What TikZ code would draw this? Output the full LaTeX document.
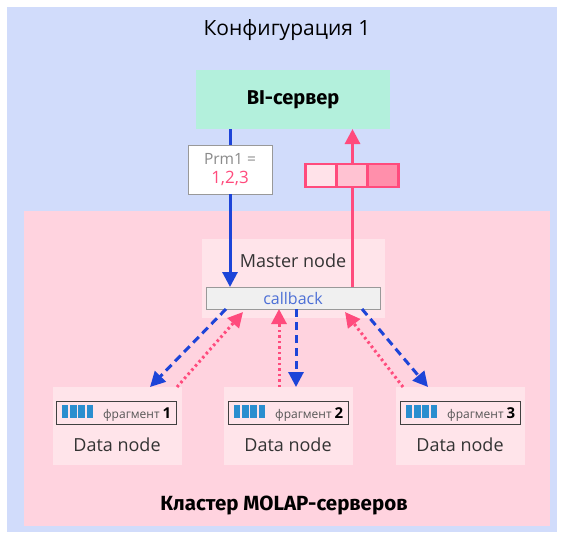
\documentclass[tikz,border=0pt]{standalone}
\usepackage{fontspec}
\setmainfont{Open Sans}
\newfontfamily\heavyfont{Fira Sans}
\usetikzlibrary{arrows.meta}

\definecolor{bgblue}{HTML}{D1DCFB}
\definecolor{clusterpink}{HTML}{FFD3DF}
\definecolor{nodepink}{HTML}{FFE4EA}
\definecolor{mint}{HTML}{B3F0DC}
\definecolor{arrowblue}{HTML}{1D44D8}
\definecolor{arrowpink}{HTML}{FF4B7D}
\definecolor{cbblue}{HTML}{4C6FD6}
\definecolor{cbfill}{HTML}{F0F0F0}
\definecolor{boxgray}{HTML}{999999}
\definecolor{prmgray}{HTML}{8A8A8A}
\definecolor{bargblue}{HTML}{2A8ECF}
\definecolor{fraggray}{HTML}{555555}
\definecolor{cellA}{HTML}{FFE2E9}
\definecolor{cellB}{HTML}{FFC2D2}
\definecolor{cellC}{HTML}{FF8FAB}

\newcommand{\fragbars}{{\color{bargblue}\rule{6.5pt}{13pt}\hspace{1.8pt}\rule{6.5pt}{13pt}\hspace{1.8pt}\rule{6.5pt}{13pt}\hspace{1.8pt}\rule{6.5pt}{13pt}}}
\newcommand{\fraglabel}[1]{\fragbars\hspace{10pt}{\fontsize{12pt}{14pt}\selectfont\color{fraggray}фрагмент}\hspace{3pt}{\fontsize{15pt}{17pt}\selectfont\bfseries #1}}

\tikzset{
  plate/.style={inner sep=0pt, outer sep=0pt, anchor=north west},
  cell/.style={draw=arrowpink, line width=2.2pt, minimum width=31pt, minimum height=23pt, inner sep=0pt},
  fragbox/.style={draw=black!75, line width=1pt, minimum width=120pt, minimum height=23pt, inner sep=0pt, anchor=north west},
  solidblue/.style={draw=arrowblue, line width=3pt},
  solidpink/.style={draw=arrowpink, line width=3pt},
  tipA/.style={-{Triangle[length=15pt,width=15pt]}},
  dashblue/.style={draw=arrowblue, line width=3pt, dash pattern=on 8pt off 5pt, tipA},
  dotpink/.style={draw=arrowpink, line width=3pt, dash pattern=on 2.5pt off 3pt, tipA},
  bodytext/.style={font=\fontsize{18pt}{21pt}\selectfont, text=black!80},
}

\begin{document}
\begin{tikzpicture}[x=1pt, y=-1pt]
\useasboundingbox (0,0) rectangle (564,539);

% backgrounds
\node[plate, fill=bgblue, minimum width=550pt, minimum height=525pt] (frame) at (7,7) {};
\node[plate, fill=clusterpink, minimum width=526pt, minimum height=315pt] (cluster) at (24,211) {};
\node[plate, fill=nodepink, minimum width=183pt, minimum height=79pt] (master) at (202,239) {};
\node[plate, fill=nodepink, minimum width=129pt, minimum height=78pt] (dn1) at (53,387) {};
\node[plate, fill=nodepink, minimum width=129pt, minimum height=78pt] (dn2) at (224,387) {};
\node[plate, fill=nodepink, minimum width=129pt, minimum height=78pt] (dn3) at (396,387) {};

% titles
\node[font=\fontsize{21pt}{24pt}\selectfont] (title) at (287,30) {Конфигурация 1};
\node[plate, fill=mint, minimum width=194pt, minimum height=59pt] (bi) at (196,70) {};
\node[font=\heavyfont\bfseries\fontsize{20pt}{22pt}\selectfont] (bitext) at (bi.center) {BI-сервер};
\node[font=\heavyfont\bfseries\fontsize{20.5pt}{22pt}\selectfont] (clustertext) at (284,505) {Кластер MOLAP-серверов};

% master node
\node[bodytext] (mastertext) at (293,261) {Master node};
\node[plate, draw=boxgray, line width=1pt, fill=cbfill, minimum width=174pt, minimum height=22pt] (cb) at (206,287) {};
\node[font=\fontsize{16pt}{18pt}\selectfont, text=cbblue] (cbtext) at (cb.center) {callback};

% request going down with its parameter
\node[plate, draw=boxgray, line width=1pt, fill=white, minimum width=84pt, minimum height=49pt] (prm) at (188,145) {};
\node[align=center, inner sep=0pt, font=\fontsize{15.5pt}{19pt}\selectfont] (prmtext) at (prm.center)
  {\textcolor{prmgray}{Prm1 =}\\\textcolor{arrowpink}{\fontsize{17pt}{19pt}\selectfont 1,2,3}};
\draw[solidblue] (bi.south -| prm.center) -- (prm.north);
\draw[solidblue, tipA] (prm.south) -- (prm.south |- cb.north);

% result going up
\coordinate (upx) at (352.5,0);
\draw[solidpink, tipA] (cb.north -| upx) -- (bi.south -| upx);
\node[cell, fill=cellA] (c1) at (321,175.5) {};
\node[cell, fill=cellB] (c2) at (352,175.5) {};
\node[cell, fill=cellC] (c3) at (383,175.5) {};

% data nodes
\node[fragbox] (f1) at (56,401) {\fraglabel{1}};
\node[fragbox] (f2) at (228,401) {\fraglabel{2}};
\node[fragbox] (f3) at (400,401) {\fraglabel{3}};
\node[bodytext] (d1) at (117,445) {Data node};
\node[bodytext] (d2) at (288,445) {Data node};
\node[bodytext] (d3) at (460,445) {Data node};

% arrow end points on callback and data nodes
\coordinate (b1s) at (226,309);
\coordinate (b1e) at (150,387);
\coordinate (p1s) at (177,387);
\coordinate (p1e) at (243,312);
\coordinate (p2s) at (279,387);
\coordinate (p2e) at (279,309);
\coordinate (b2s) at (296,309);
\coordinate (b2e) at (296,387);
\coordinate (p3s) at (403,387);
\coordinate (p3e) at (345,312);
\coordinate (b3s) at (362,309);
\coordinate (b3e) at (428,387);

\draw[dashblue] (b1s) -- (b1e);
\draw[dotpink] (p1s) -- (p1e);
\draw[dotpink] (p2s) -- (p2e);
\draw[dashblue] (b2s) -- (b2e);
\draw[dotpink] (p3s) -- (p3e);
\draw[dashblue] (b3s) -- (b3e);
\end{tikzpicture}
\end{document}
